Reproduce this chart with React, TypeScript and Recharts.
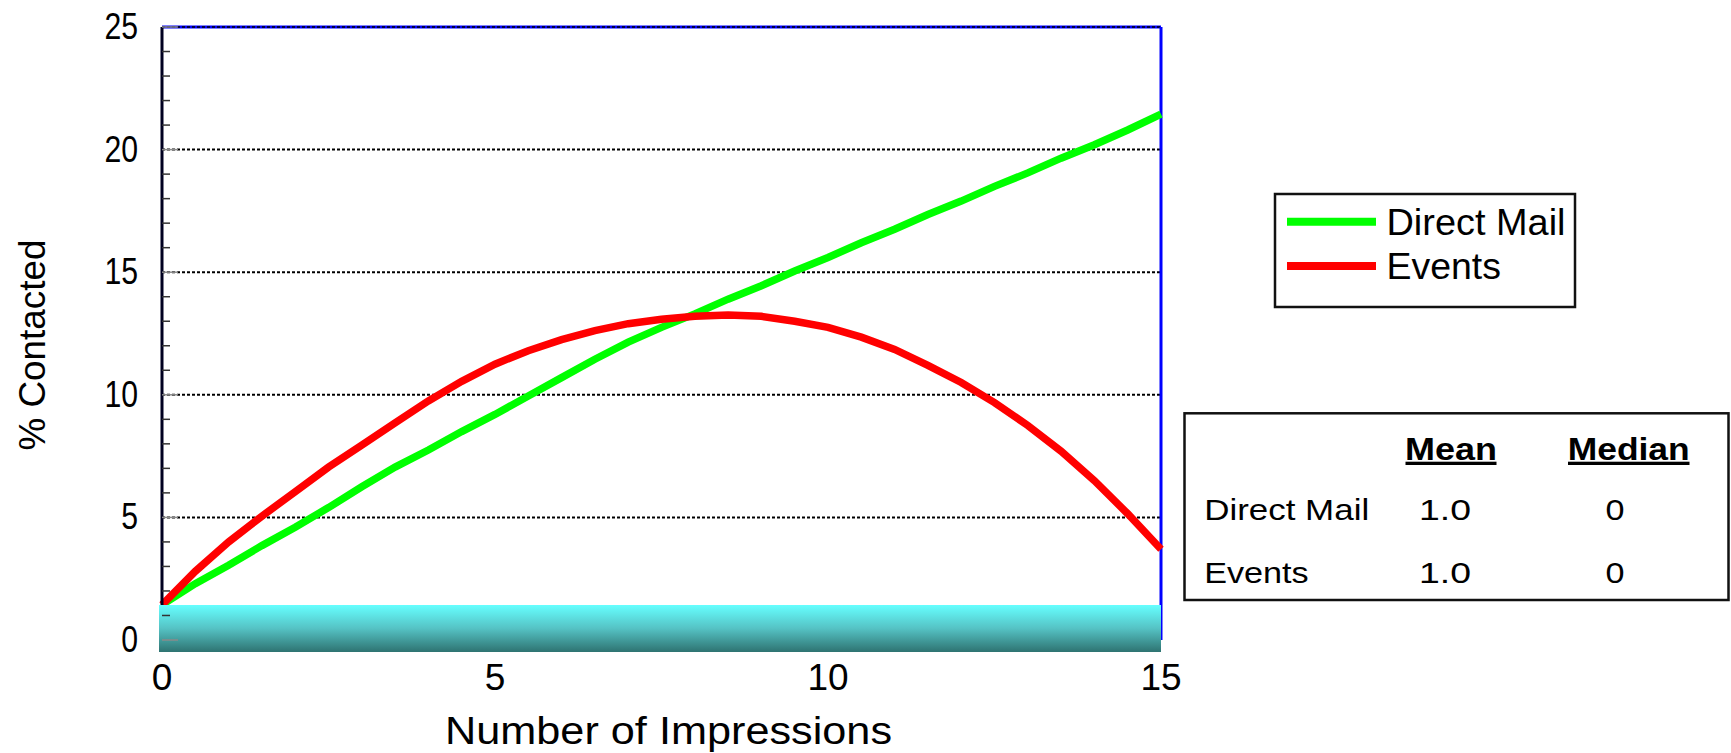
import {
  LineChart,
  Line,
  XAxis,
  YAxis,
  CartesianGrid,
  ReferenceArea,
  ReferenceLine,
  Legend,
  Label,
} from "recharts";

const FONT = "'Liberation Sans', Arial, Helvetica, sans-serif";

// number of impressions (x) and % contacted for each channel
const impressions = [
  0, 0.5, 1, 1.5, 2, 2.5, 3, 3.5, 4, 4.5, 5, 5.5, 6, 6.5, 7, 7.5, 8, 8.5, 9,
  9.5, 10, 10.5, 11, 11.5, 12, 12.5, 13, 13.5, 14, 14.5, 15,
];
const directMail = [
  1.43, 2.3, 3.05, 3.85, 4.6, 5.4, 6.25, 7.05, 7.75, 8.5, 9.2, 9.95, 10.7,
  11.45, 12.15, 12.75, 13.3, 13.9, 14.45, 15.05, 15.6, 16.2, 16.75, 17.35,
  17.9, 18.5, 19.05, 19.65, 20.2, 20.8, 21.45,
];
const events = [
  1.43, 2.8, 4.0, 5.05, 6.05, 7.05, 7.95, 8.85, 9.75, 10.55, 11.25, 11.8,
  12.25, 12.62, 12.9, 13.08, 13.2, 13.25, 13.2, 13.0, 12.75, 12.35, 11.85,
  11.2, 10.5, 9.68, 8.75, 7.7, 6.5, 5.15, 3.7,
];

const xTicks = [0, 5, 10, 15];
const yTicks = [
  0, 1, 2, 3, 4, 5, 6, 7, 8, 9, 10, 11, 12, 13, 14, 15, 16, 17, 18, 19, 20, 21,
  22, 23, 24, 25,
];
const gridValues = [5, 10, 15, 20];

// summary table
const statSeries = ["Direct Mail", "Events"];
const statMeans = ["1.0", "1.0"];
const statMedians = ["0", "0"];

// shaded floor strip along the bottom of the plot
const floorTop = 1.43;
const floorBottom = -0.49;

const chartData = impressions.map((x, i) => ({
  x,
  directMail: directMail[i],
  events: events[i],
}));

function YTick(props: any) {
  const { x, y, payload } = props;
  const v = payload.value;
  const major = v % 5 === 0;
  const label = String(v);
  return (
    <g>
      <line
        x1={x}
        x2={x + (major ? 16 : 8)}
        y1={y}
        y2={y}
        stroke={major ? "#8a8a8a" : "#333"}
        strokeWidth={1.5}
      />
      {major && (
        <text
          x={x - 24}
          y={y + 12}
          textAnchor="end"
          fontSize={37}
          fontFamily={FONT}
          fill="#000"
          textLength={label.length * 16.8}
          lengthAdjust="spacingAndGlyphs"
        >
          {label}
        </text>
      )}
    </g>
  );
}

function XTick(props: any) {
  const { x, y, payload } = props;
  return (
    <text
      x={x}
      y={y + 50}
      textAnchor="middle"
      fontSize={37}
      fontFamily={FONT}
      fill="#000"
    >
      {payload.value}
    </text>
  );
}

function YTitle(props: any) {
  const vb = props.viewBox;
  const cx = vb.x - 17;
  const cy = vb.y + vb.height / 2 + 11.5;
  return (
    <text
      x={cx}
      y={cy}
      transform={`rotate(-90, ${cx}, ${cy})`}
      textAnchor="middle"
      fontSize={37}
      fontFamily={FONT}
      fill="#000"
      textLength={211}
      lengthAdjust="spacingAndGlyphs"
    >
      % Contacted
    </text>
  );
}

function XTitle(props: any) {
  const vb = props.viewBox;
  return (
    <text
      x={vb.x + vb.width / 2 + 7}
      y={vb.y + 104}
      textAnchor="middle"
      fontSize={39}
      fontFamily={FONT}
      fill="#000"
      textLength={447}
      lengthAdjust="spacingAndGlyphs"
    >
      Number of Impressions
    </text>
  );
}

function LegendBox(props: any) {
  const payload = props.payload || [];
  const widths: Record<string, number> = { "Direct Mail": 179, Events: 114.5 };
  return (
    <svg width={306} height={119} style={{ display: "block" }}>
      <rect
        x={3}
        y={3}
        width={300}
        height={113}
        fill="#fff"
        stroke="#111"
        strokeWidth={2.5}
      />
      {payload.map((entry: any, i: number) => (
        <g key={entry.value}>
          <line
            x1={15}
            x2={104}
            y1={30.7 + i * 44.3}
            y2={30.7 + i * 44.3}
            stroke={entry.color}
            strokeWidth={8}
          />
          <text
            x={114.5}
            y={44 + i * 44}
            fontSize={36}
            fontFamily={FONT}
            fill="#000"
            textLength={widths[entry.value]}
            lengthAdjust="spacingAndGlyphs"
          >
            {entry.value}
          </text>
        </g>
      ))}
    </svg>
  );
}

function StatsTable() {
  const nameWidths = [165, 104.5];
  return (
    <svg
      width={1731}
      height={753}
      style={{ position: "absolute", left: 0, top: 0, pointerEvents: "none" }}
    >
      <rect
        x={1184.5}
        y={413.3}
        width={544}
        height={186.7}
        fill="#fff"
        stroke="#111"
        strokeWidth={2.5}
      />
      <text
        x={1451}
        y={459.5}
        textAnchor="middle"
        fontSize={31}
        fontWeight="bold"
        fontFamily={FONT}
        textLength={92}
        lengthAdjust="spacingAndGlyphs"
      >
        Mean
      </text>
      <rect x={1405.5} y={461.7} width={91} height={3.3} fill="#000" />
      <text
        x={1628.7}
        y={459.5}
        textAnchor="middle"
        fontSize={31}
        fontWeight="bold"
        fontFamily={FONT}
        textLength={122}
        lengthAdjust="spacingAndGlyphs"
      >
        Median
      </text>
      <rect x={1568} y={461.7} width={121.5} height={3.3} fill="#000" />
      {statSeries.map((name, i) => {
        const baseline = 520 + i * 63;
        return (
          <g key={name} fontFamily={FONT} fontSize={30} fill="#000">
            <text
              x={1204.2}
              y={baseline}
              textLength={nameWidths[i]}
              lengthAdjust="spacingAndGlyphs"
            >
              {name}
            </text>
            <text
              x={1445}
              y={baseline}
              textAnchor="middle"
              textLength={52}
              lengthAdjust="spacingAndGlyphs"
            >
              {statMeans[i]}
            </text>
            <text
              x={1615}
              y={baseline}
              textAnchor="middle"
              textLength={19}
              lengthAdjust="spacingAndGlyphs"
            >
              {statMedians[i]}
            </text>
          </g>
        );
      })}
    </svg>
  );
}

export default function App() {
  return (
    <div
      style={{
        position: "absolute",
        left: 0,
        top: 0,
        width: 1731,
        height: 753,
        background: "#fff",
        fontFamily: FONT,
      }}
    >
      <LineChart
        width={1731}
        height={753}
        data={chartData}
        margin={{ top: 27, right: 570, bottom: 53, left: 62 }}
      >
        <defs>
          <linearGradient id="floorFill" x1="0" y1="0" x2="0" y2="1">
            <stop offset="0%" stopColor="#66ffff" />
            <stop offset="50%" stopColor="#55c2c4" />
            <stop offset="100%" stopColor="#2e7371" />
          </linearGradient>
        </defs>
        <CartesianGrid
          vertical={false}
          horizontalValues={gridValues}
          stroke="#000"
          strokeWidth={2}
          strokeDasharray="3 2"
        />
        <XAxis
          type="number"
          dataKey="x"
          domain={[0, 15]}
          ticks={xTicks}
          interval={0}
          axisLine={false}
          tickLine={false}
          tickSize={0}
          tickMargin={0}
          height={60}
          tick={<XTick />}
        >
          <Label content={<XTitle />} />
        </XAxis>
        <YAxis
          type="number"
          domain={[0, 25]}
          ticks={yTicks}
          interval={0}
          width={100}
          axisLine={{ stroke: "#000020", strokeWidth: 3 }}
          tickLine={false}
          tickSize={0}
          tickMargin={0}
          tick={<YTick />}
        >
          <Label content={<YTitle />} />
        </YAxis>
        <ReferenceLine y={25} stroke="#0000ff" strokeWidth={3} />
        <ReferenceLine
          y={25}
          stroke="#000"
          strokeWidth={1.5}
          strokeDasharray="3 2"
        />
        <ReferenceLine x={15} stroke="#0000ff" strokeWidth={3} />
        <Legend
          layout="vertical"
          align="center"
          verticalAlign="middle"
          wrapperStyle={{ left: 1272, top: 191, width: 306, height: 119 }}
          content={<LegendBox />}
        />
        <Line
          type="linear"
          dataKey="directMail"
          name="Direct Mail"
          stroke="#00ff00"
          strokeWidth={7.5}
          dot={false}
          activeDot={false}
          isAnimationActive={false}
        />
        <Line
          type="linear"
          dataKey="events"
          name="Events"
          stroke="#ff0000"
          strokeWidth={7.5}
          dot={false}
          activeDot={false}
          isAnimationActive={false}
        />
        <ReferenceArea
          x1={-0.045}
          x2={15}
          y1={floorBottom}
          y2={floorTop}
          ifOverflow="visible"
          fill="url(#floorFill)"
          fillOpacity={1}
          stroke="none"
          zIndex={600}
        />
      </LineChart>
      <StatsTable />
    </div>
  );
}
